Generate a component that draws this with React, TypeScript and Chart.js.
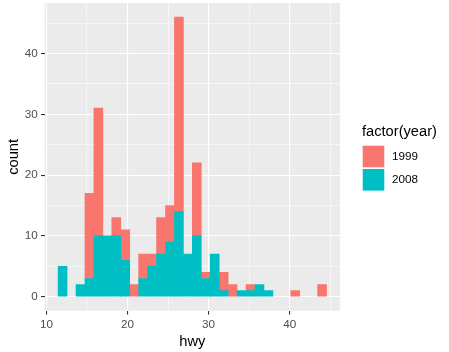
import React, { useEffect, useRef } from 'react';
import { Chart, registerables } from 'chart.js';

Chart.register(...registerables);

// Histogram of hwy (30 bins), stacked by factor(year)
const binCenters = [
  12, 13.103, 14.207, 15.31, 16.414, 17.517, 18.621, 19.724, 20.828, 21.931,
  23.034, 24.138, 25.241, 26.345, 27.448, 28.552, 29.655, 30.759, 31.862, 32.966,
  34.069, 35.172, 36.276, 37.379, 38.483, 39.586, 40.69, 41.793, 42.897, 44,
];
const years = ['1999', '2008'];
const count1999 = [0, 0, 0, 14, 21, 0, 3, 5, 2, 4, 2, 6, 6, 32, 0, 12, 1, 0, 3, 2, 0, 1, 0, 0, 0, 0, 1, 0, 0, 2];
const count2008 = [5, 0, 2, 3, 10, 10, 10, 6, 0, 3, 5, 7, 9, 14, 7, 10, 3, 7, 1, 0, 1, 1, 2, 1, 0, 0, 0, 0, 0, 0];
const seriesColors = ['#F8766D', '#00BFC4'];

const xGridValues = [10, 15, 20, 25, 30, 35, 40, 45];
const yGridValues = [0, 5, 10, 15, 20, 25, 30, 35, 40, 45];
const xTickLabels = ['10', '20', '30', '40'];
const yTickLabels = ['0', '10', '20', '30', '40'];
const xTitle = 'hwy';
const yTitle = 'count';
const legendTitle = 'factor(year)';

const FONT = '"Liberation Sans", Arial, sans-serif';

const panelBg = {
  id: 'panelBg',
  beforeDraw(chart: any) {
    const { ctx, chartArea } = chart;
    ctx.save();
    ctx.fillStyle = '#EBEBEB';
    ctx.fillRect(chartArea.left, chartArea.top, chartArea.right - chartArea.left, chartArea.bottom - chartArea.top);
    ctx.restore();
  },
};

const ggLegend = {
  id: 'ggLegend',
  afterDraw(chart: any) {
    const { ctx } = chart;
    const ds = chart.data.datasets.slice().reverse();
    const left = 362;
    ctx.save();
    ctx.fillStyle = '#000000';
    ctx.font = `14.67px ${FONT}`;
    ctx.textBaseline = 'alphabetic';
    ctx.textAlign = 'left';
    ctx.fillText(legendTitle, left, 135.5);
    ds.forEach((d: any, i: number) => {
      const top = 145 + i * 23.3;
      ctx.fillStyle = d.backgroundColor;
      ctx.fillRect(left + 0.7, top + 0.7, 21.6, 21.6);
      ctx.fillStyle = '#000000';
      ctx.font = `11.7px ${FONT}`;
      ctx.textBaseline = 'middle';
      ctx.fillText(d.label, 392, top + 11.5);
    });
    ctx.restore();
  },
};

const isMajor = (v: any) => typeof v === 'number' && Math.abs(v % 10) < 1e-9;

export default function App() {
  const ref = useRef<HTMLCanvasElement | null>(null);

  useEffect(() => {
    if (!ref.current) return;
    const gridOpts = {
      offset: false,
      color: '#FFFFFF',
      lineWidth: (c: any) => (isMajor(c.tick?.value) ? 1.1 : 0.55),
      drawTicks: true,
      tickLength: 3.7,
      tickColor: (c: any) => (isMajor(c.tick?.value) ? '#333333' : 'rgba(0,0,0,0)'),
      tickWidth: 1.1,
    };
    const zeroPad = (s: any) => {
      s.paddingTop = 0;
      s.paddingBottom = 0;
      s.paddingLeft = 0;
      s.paddingRight = 0;
    };
    const toPoints = (counts: number[]) =>
      binCenters.map((x, i) => ({ x, y: counts[i] === 0 ? null : counts[i] }));
    const chart = new Chart(ref.current, {
      type: 'bar',
      data: {
        datasets: [
          {
            label: years[1],
            data: toPoints(count2008),
            backgroundColor: seriesColors[1],
            borderWidth: 0,
            barPercentage: 1,
            categoryPercentage: 1,
          },
          {
            label: years[0],
            data: toPoints(count1999),
            backgroundColor: seriesColors[0],
            borderWidth: 0,
            barPercentage: 1,
            categoryPercentage: 1,
          },
        ],
      },
      options: {
        animation: false,
        responsive: true,
        maintainAspectRatio: false,
        layout: { padding: { left: 0, right: 109, top: 3, bottom: 0 } },
        plugins: { legend: { display: false }, tooltip: { enabled: false } },
        scales: {
          x: {
            type: 'linear',
            offset: false,
            stacked: true,
            min: 9.793,
            max: 46.207,
            afterBuildTicks: (s: any) => {
              s.ticks = xGridValues.map((v) => ({ value: v }));
            },
            afterFit: (s: any) => {
              s.height = 41.3;
              zeroPad(s);
            },
            grid: gridOpts,
            border: { display: false },
            ticks: {
              autoSkip: false,
              maxRotation: 0,
              padding: 3.8,
              color: '#4D4D4D',
              font: { family: FONT, size: 11.7 },
              callback: (v: any) => (xTickLabels.includes(String(v)) ? String(v) : ''),
            },
            title: {
              display: true,
              text: xTitle,
              color: '#000000',
              font: { family: FONT, size: 14.67 },
              padding: { top: 0, bottom: 1.6 },
            },
          },
          y: {
            type: 'linear',
            offset: false,
            stacked: true,
            min: -2.3,
            max: 48.3,
            afterBuildTicks: (s: any) => {
              s.ticks = yGridValues.map((v) => ({ value: v }));
            },
            afterFit: (s: any) => {
              s.width = 44.7;
              zeroPad(s);
            },
            grid: gridOpts,
            border: { display: false },
            ticks: {
              autoSkip: false,
              padding: 3.3,
              color: '#4D4D4D',
              font: { family: FONT, size: 11.7 },
              callback: (v: any) => (yTickLabels.includes(String(v)) ? String(v) : ''),
            },
            title: {
              display: true,
              text: yTitle,
              color: '#000000',
              font: { family: FONT, size: 14.67 },
              padding: { top: 5.4, bottom: 0 },
            },
          },
        },
      } as any,
      plugins: [panelBg, ggLegend],
    });
    return () => chart.destroy();
  }, []);

  return (
    <div style={{ position: 'fixed', left: 0, top: 0, width: 449, height: 352 }}>
      <canvas ref={ref} />
    </div>
  );
}
